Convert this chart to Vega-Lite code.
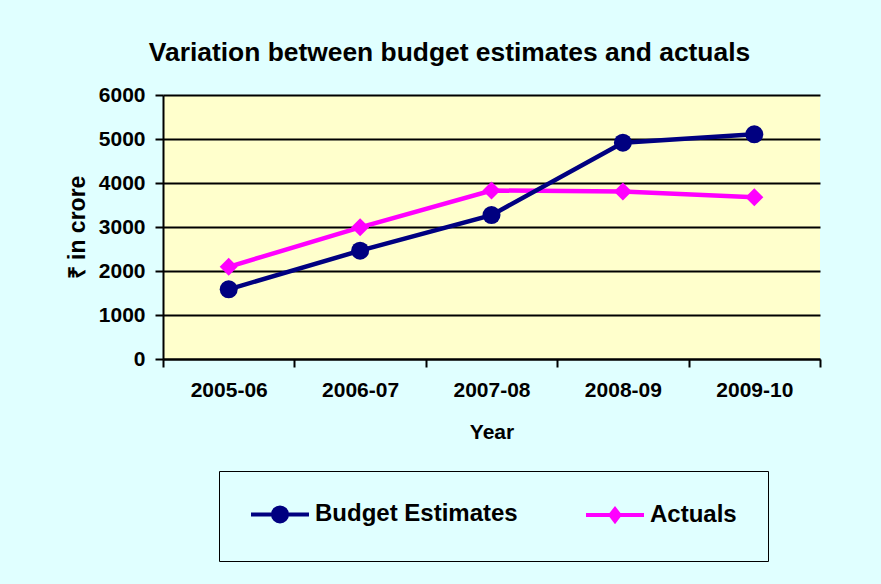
{
  "$schema": "https://vega.github.io/schema/vega-lite/v6.json",
  "width": 657,
  "height": 264,
  "autosize": {"type": "none"},
  "padding": {"left": 163, "top": 95, "right": 61, "bottom": 225},
  "background": "#E0FFFF",
  "config": {
    "font": "Liberation Sans",
    "view": {"fill": "#FFFFCC", "stroke": null},
    "axis": {"labelFontWeight": "bold", "titleFontWeight": "bold", "labelColor": "black", "titleColor": "black", "labelFont": "Liberation Sans", "titleFont": "Liberation Sans"}
  },
  "title": {
    "text": "Variation between budget estimates and actuals",
    "fontSize": 26.4,
    "font": "Liberation Sans",
    "fontWeight": "bold",
    "color": "black",
    "anchor": "middle",
    "frame": "group",
    "dx": -42,
    "dy": 37,
    "offset": 34,
    "baseline": "alphabetic"
  },
  "data": {
    "values": [
      {"Year": "2005-06", "Series": "Actuals", "Value": 2095},
      {"Year": "2006-07", "Series": "Actuals", "Value": 2992},
      {"Year": "2007-08", "Series": "Actuals", "Value": 3830},
      {"Year": "2008-09", "Series": "Actuals", "Value": 3805},
      {"Year": "2009-10", "Series": "Actuals", "Value": 3674},
      {"Year": "2005-06", "Series": "Budget Estimates", "Value": 1584},
      {"Year": "2006-07", "Series": "Budget Estimates", "Value": 2462},
      {"Year": "2007-08", "Series": "Budget Estimates", "Value": 3270},
      {"Year": "2008-09", "Series": "Budget Estimates", "Value": 4916},
      {"Year": "2009-10", "Series": "Budget Estimates", "Value": 5106}
    ]
  },
  "encoding": {
    "x": {
      "field": "Year",
      "type": "ordinal",
      "bandPosition": 0.5,
      "scale": {"type": "band", "paddingInner": 0, "paddingOuter": 0},
      "axis": {
        "title": "Year",
        "tickBand": "extent",
        "labelAngle": 0,
        "labelFontSize": 21,
        "labelPadding": 12,
        "tickSize": 8,
        "tickWidth": 2,
        "tickColor": "black",
        "domainColor": "black",
        "domainWidth": 2,
        "grid": false,
        "titleFontSize": 21,
        "titleY": 79,
        "titleBaseline": "alphabetic"
      }
    },
    "y": {
      "field": "Value",
      "type": "quantitative",
      "scale": {"domain": [0, 6000], "nice": false},
      "axis": {
        "title": "₹ in crore",
        "values": [0, 1000, 2000, 3000, 4000, 5000, 6000],
        "format": "d",
        "grid": true,
        "gridColor": "black",
        "gridWidth": 2,
        "gridOpacity": 1,
        "domainColor": "black",
        "domainWidth": 2,
        "tickColor": "black",
        "tickSize": 8,
        "tickWidth": 2,
        "labelFontSize": 21,
        "labelPadding": 10,
        "titleFontSize": 23,
        "titleX": -79,
        "titleBaseline": "alphabetic",
        "titleAngle": 270
      }
    },
    "color": {
      "field": "Series",
      "type": "nominal",
      "scale": {"domain": ["Budget Estimates", "Actuals"], "range": ["#000080", "#FF00FF"]},
      "legend": {
        "orient": "none",
        "legendX": 56,
        "legendY": 376,
        "direction": "horizontal",
        "title": null,
        "padding": 31,
        "strokeColor": "black",
        "fillColor": "#E0FFFF",
        "labelFontSize": 24,
        "labelFont": "Liberation Sans",
        "labelFontWeight": "bold",
        "labelColor": "black",
        "labelLimit": 0,
        "symbolSize": 324,
        "symbolStrokeWidth": 4,
        "labelOffset": 41,
        "columnPadding": 60,
        "encode": {
          "symbols": {
            "update": {
              "shape": {"signal": "datum.value === 'Budget Estimates' ? 'M-1.22,0H5.22M1.22,0A0.78,0.78,0,1,1,2.78,0A0.78,0.78,0,1,1,1.22,0Z' : 'M-1.22,0H5.22M1.5,0L2,-0.65L2.5,0L2,0.65Z'"},
              "fill": {"scale": "color", "field": "value"},
              "stroke": {"scale": "color", "field": "value"},
              "strokeWidth": {"value": 4},
              "opacity": {"value": 1}
            }
          }
        }
      }
    }
  },
  "layer": [
    {"mark": {"type": "line", "strokeWidth": 4.5}},
    {
      "transform": [{"filter": "datum.Series === 'Budget Estimates'"}],
      "mark": {"type": "point", "shape": "circle", "filled": true, "size": 324, "opacity": 1}
    },
    {
      "transform": [{"filter": "datum.Series === 'Actuals'"}],
      "mark": {"type": "point", "shape": "diamond", "filled": true, "size": 324, "opacity": 1}
    }
  ]
}
